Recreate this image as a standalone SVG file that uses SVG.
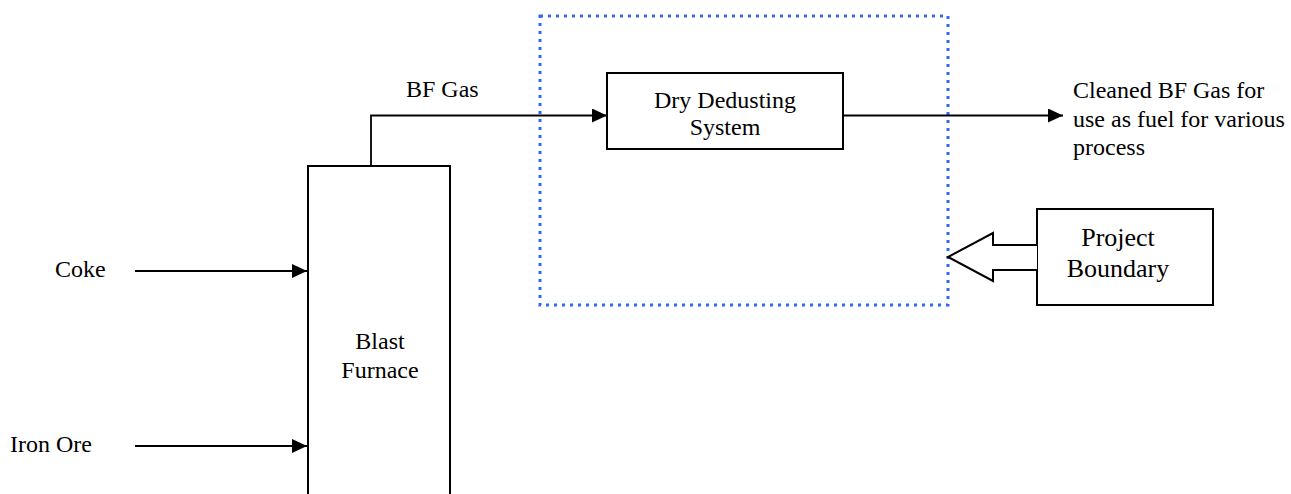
<svg xmlns="http://www.w3.org/2000/svg" width="1291" height="494" viewBox="0 0 1291 494">
  <style>
    .box { fill: #fff; stroke: #000; stroke-width: 2; }
    .line { fill: none; stroke: #000; stroke-width: 1.8; }
    .lbl { font-family: "Liberation Serif", "Times New Roman", serif; font-size: 24px; fill: #000; }
    .big { font-size: 26px; }
    .mid { text-anchor: middle; }
    .boundary { fill: none; stroke: #3366ff; stroke-width: 3; stroke-dasharray: 3 5; }
  </style>
  <defs>
    <marker id="arrow" viewBox="0 0 15 14" refX="15" refY="7" markerWidth="15" markerHeight="14" markerUnits="userSpaceOnUse" orient="auto">
      <path d="M0,0 L15,7 L0,14 Z" fill="#000"/>
    </marker>
  </defs>

  <rect width="1291" height="494" fill="#fff"/>

  <!-- project boundary (dotted) -->
  <g id="boundary">
    <rect class="boundary" x="540" y="16" width="408" height="289"/>
  </g>

  <!-- blast furnace -->
  <g id="blast-furnace">
    <rect class="box" x="308" y="166" width="142" height="340"/>
    <text class="lbl mid" x="380" y="349">Blast</text>
    <text class="lbl mid" x="380" y="378">Furnace</text>
  </g>

  <!-- dry dedusting system -->
  <g id="dry-dedusting">
    <rect class="box" x="607" y="73" width="236" height="76"/>
    <text class="lbl mid" x="725" y="108">Dry Dedusting</text>
    <text class="lbl mid" x="725" y="135">System</text>
  </g>

  <!-- project boundary callout -->
  <g id="project-boundary">
    <rect class="box" x="1037" y="209" width="176" height="96"/>
    <text class="lbl big mid" x="1118" y="246">Project</text>
    <text class="lbl big mid" x="1118" y="277">Boundary</text>
    <path class="box" d="M1037,245 L993,245 L993,233 L948,257 L993,281 L993,270 L1037,270"/>
  </g>

  <!-- inputs and outputs -->
  <g id="labels">
    <text class="lbl" x="55" y="277">Coke</text>
    <text class="lbl" x="10" y="452">Iron Ore</text>
    <text class="lbl" x="406" y="97">BF Gas</text>
    <text class="lbl" x="1073" y="98">Cleaned BF Gas for</text>
    <text class="lbl" x="1073" y="127">use as fuel for various</text>
    <text class="lbl" x="1073" y="155">process</text>
  </g>

  <!-- connectors -->
  <g id="connectors">
    <path class="line" d="M135,271 L307,271" marker-end="url(#arrow)"/>
    <path class="line" d="M135,446 L307,446" marker-end="url(#arrow)"/>
    <path class="line" d="M371,166 L371,115.5 L607,115.5" marker-end="url(#arrow)"/>
    <path class="line" d="M843,115.5 L1063,115.5" marker-end="url(#arrow)"/>
  </g>
</svg>
